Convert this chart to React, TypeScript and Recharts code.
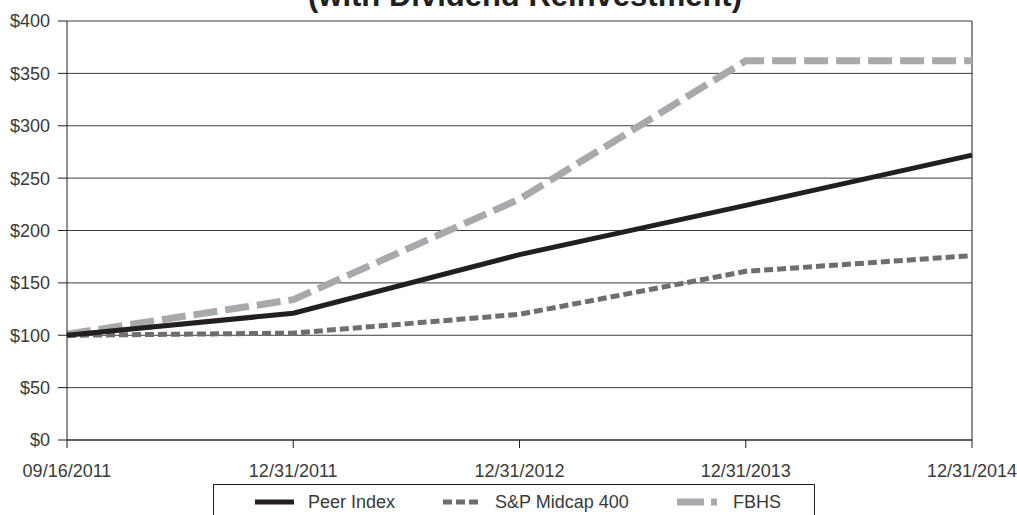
import React from "react";
import {
  LineChart,
  Line,
  XAxis,
  YAxis,
  CartesianGrid,
  ReferenceLine,
  Legend,
} from "recharts";

const dates = ["09/16/2011", "12/31/2011", "12/31/2012", "12/31/2013", "12/31/2014"];
const peerIndex = [100, 121, 177, 224, 272];
const spMidcap = [100, 102, 120, 161, 176];
const fbhs = [101, 134, 230, 362, 362];
const yTicks = [0, 50, 100, 150, 200, 250, 300, 350, 400];

const data = dates.map((date, i) => ({
  date,
  peer: peerIndex[i],
  sp: spMidcap[i],
  fbhs: fbhs[i],
}));

const FONT = "'Liberation Sans', Arial, Helvetica, sans-serif";
const INK = "#231f20";
const TEXT = "#3a3a3a";

function LegendBox() {
  const items = [
    { label: "Peer Index", color: INK, width: 5, dash: undefined, x1: 41, x2: 80, tx: 94 },
    { label: "S&P Midcap 400", color: "#6d6e71", width: 5, dash: "9 4", x1: 229, x2: 265, tx: 281 },
    { label: "FBHS", color: "#a7a9ac", width: 7, dash: "27 7", x1: 463, x2: 503, tx: 519 },
  ];
  return (
    <div
      style={{
        width: 602,
        height: 40,
        border: `1px solid ${INK}`,
        boxSizing: "border-box",
        background: "#fff",
      }}
    >
      <svg width={600} height={38}>
        {items.map((it) => (
          <g key={it.label}>
            <line
              x1={it.x1}
              x2={it.x2}
              y1={17}
              y2={17}
              stroke={it.color}
              strokeWidth={it.width}
              strokeDasharray={it.dash}
            />
            <text
              x={it.tx}
              y={17}
              dy="0.35em"
              fontFamily={FONT}
              fontSize={18}
              fill={TEXT}
            >
              {it.label}
            </text>
          </g>
        ))}
      </svg>
    </div>
  );
}

export default function App() {
  return (
    <div
      style={{
        position: "absolute",
        left: 0,
        top: 0,
        width: 1017,
        height: 515,
        overflow: "hidden",
        background: "#fff",
      }}
    >
      <LineChart
        width={1017}
        height={515}
        data={data}
        margin={{ top: 21, right: 45, left: 0, bottom: 5 }}
      >
        <CartesianGrid horizontal vertical={false} stroke="#3c3c3c" strokeWidth={1} />
        <XAxis
          dataKey="date"
          height={30}
          tickSize={8}
          tickMargin={16}
          axisLine={{ stroke: INK }}
          tickLine={{ stroke: INK }}
          tick={{ fontFamily: FONT, fontSize: 18, fill: TEXT }}
          interval={0}
        />
        <YAxis
          width={67}
          domain={[0, 400]}
          ticks={yTicks}
          tickFormatter={(v) => `$${v}`}
          tickSize={9}
          tickMargin={8}
          axisLine={{ stroke: INK }}
          tickLine={{ stroke: INK }}
          tick={{ fontFamily: FONT, fontSize: 18, fill: TEXT }}
        />
        <ReferenceLine x="12/31/2014" stroke={INK} strokeWidth={1} />
        <Line
          dataKey="fbhs"
          name="FBHS"
          stroke="#a7a9ac"
          strokeWidth={7}
          strokeDasharray="24 8"
          dot={false}
          isAnimationActive={false}
        />
        <Line
          dataKey="sp"
          name="S&P Midcap 400"
          stroke="#6d6e71"
          strokeWidth={5}
          strokeDasharray="9 4"
          dot={false}
          isAnimationActive={false}
        />
        <Line
          dataKey="peer"
          name="Peer Index"
          stroke={INK}
          strokeWidth={5}
          dot={false}
          isAnimationActive={false}
        />
        <Legend
          content={() => <LegendBox />}
          wrapperStyle={{ position: "absolute", left: 213, top: 484, width: 602 }}
        />
      </LineChart>
      <svg
        width={1017}
        height={30}
        style={{ position: "absolute", left: 0, top: 0, pointerEvents: "none" }}
      >
        <text
          x={525}
          y={6}
          textAnchor="middle"
          fontFamily={FONT}
          fontWeight="bold"
          fontSize={31}
          fill={INK}
        >
          (with Dividend Reinvestment)
        </text>
      </svg>
    </div>
  );
}
